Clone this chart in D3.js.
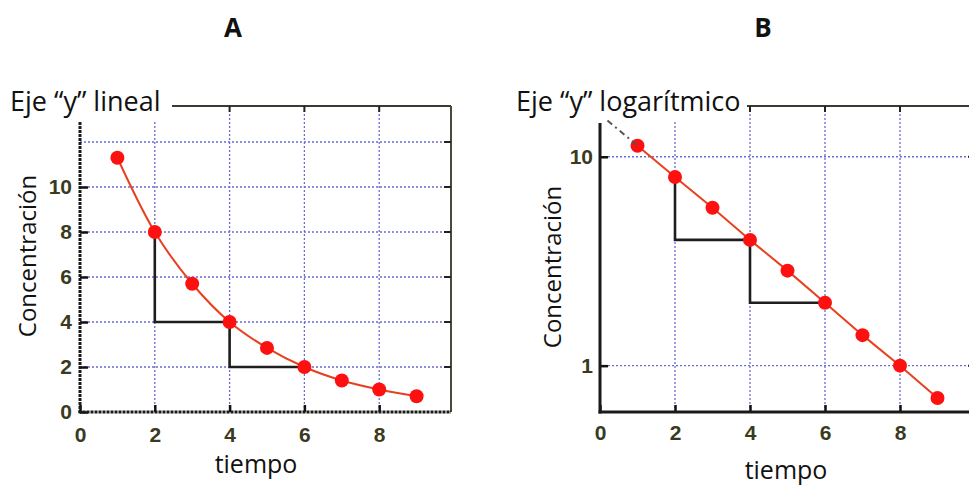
<!DOCTYPE html>
<html>
<head>
<meta charset="utf-8">
<script src="https://cdn.jsdelivr.net/npm/d3@7"></script>
<style>
  html, body { margin: 0; padding: 0; background: #fff; }
  svg { display: block; }
</style>
</head>
<body>
<svg id="chart" width="969" height="485"></svg>
<script>
// Tiempo (x) y concentración medida en cada instante
const tiempo = [1, 2, 3, 4, 5, 6, 7, 8, 9];
const concentracion = [11.3, 8, 5.7, 4, 2.85, 2, 1.4, 1, 0.7];

// Escalones de vida media: (2,8) -> (2,4) -> (4,4) -> (4,2) -> (6,2)
const escalonT = [2, 2, 4, 4, 6];
const escalonC = [8, 4, 4, 2, 2];

// Prolongación de la recta hacia t = 0 en el panel logarítmico
const prolongT = [0.2, 1];
const prolongC = [14.9, 11.3];

// Marcas de los ejes
const xTicks = [0, 2, 4, 6, 8];
const xGrid = [2, 4, 6, 8];
const yTicksLin = [0, 2, 4, 6, 8, 10];
const yGridLin = [2, 4, 6, 8, 10, 12];
const yTicksLog = [1, 10];

const svg = d3.select("#chart");
const sansFont = "'Open Sans', Lato, sans-serif";
const tickFont = "'Liberation Sans', Arial, sans-serif";
const gridColor = "#6b6bd6";
const lineColor = "#e8401f";
const dotColor = "#ff1010";
const tickColor = "#3a3a1e";

function drawPanel(opts) {
  const { x, y, xMax, yTop, yAxisTop, yTicks, yGrid, curve, titleText, titleX, titleEnd,
          axisDash, xPad, yPad, tiempoX, tiempoY, concX, concY } = opts;
  const g = svg.append("g");
  const x0 = x(0), x1 = x(xMax), y0 = y.range()[0], y1 = yTop;

  // cuadrícula punteada
  g.selectAll(".gv").data(xGrid).join("line")
    .attr("x1", d => x(d)).attr("x2", d => x(d))
    .attr("y1", y0).attr("y2", y1)
    .attr("stroke", gridColor).attr("stroke-width", 1.3).attr("stroke-dasharray", "2,2");
  g.selectAll(".gh").data(yGrid).join("line")
    .attr("x1", x0).attr("x2", x1)
    .attr("y1", d => y(d)).attr("y2", d => y(d))
    .attr("stroke", gridColor).attr("stroke-width", 1.3).attr("stroke-dasharray", "2,2");

  // marco superior y derecho
  g.append("line").attr("x1", x0).attr("x2", x1).attr("y1", y1).attr("y2", y1)
    .attr("stroke", "#3a3a30").attr("stroke-width", 2);
  g.append("line").attr("x1", x1).attr("x2", x1).attr("y1", y1).attr("y2", y0)
    .attr("stroke", "#4a4a3a").attr("stroke-width", 2);

  // marcas interiores en el marco
  g.selectAll(".tr").data(yGrid).join("line")
    .attr("x1", x1 - 7).attr("x2", x1).attr("y1", d => y(d)).attr("y2", d => y(d))
    .attr("stroke", "#222").attr("stroke-width", 2);
  g.selectAll(".tt").data(xGrid).join("line")
    .attr("x1", d => x(d)).attr("x2", d => x(d)).attr("y1", y1).attr("y2", y1 + 6)
    .attr("stroke", "#222").attr("stroke-width", 2);

  // fondo blanco del título
  g.append("rect").attr("x", titleX - 5).attr("y", 80).attr("width", titleEnd - titleX + 5)
    .attr("height", y1 - 80 + 15).attr("fill", "#fff");

  // ejes izquierdo e inferior
  const yAxis = d3.axisLeft(y).tickValues(yTicks).tickSize(-8).tickPadding(yPad).tickFormat(d3.format("d"));
  const ya = g.append("g").attr("transform", `translate(${x0},0)`).call(yAxis);
  ya.select(".domain").remove();
  ya.selectAll(".tick line").attr("stroke", "#111").attr("stroke-width", 2.5);
  ya.selectAll(".tick text").attr("fill", tickColor).attr("font-family", tickFont)
    .attr("font-weight", "bold").attr("font-size", 21);

  const xAxis = d3.axisBottom(x).tickValues(xTicks).tickSize(-7).tickPadding(xPad);
  const xa = g.append("g").attr("transform", `translate(0,${y0})`).call(xAxis);
  xa.select(".domain").remove();
  xa.selectAll(".tick line").attr("stroke", "#111").attr("stroke-width", 2.5);
  xa.selectAll(".tick text").attr("fill", tickColor).attr("font-family", tickFont)
    .attr("font-weight", "bold").attr("font-size", 21);

  g.append("line").attr("x1", x0).attr("x2", x0).attr("y1", yAxisTop).attr("y2", y0 + 1.5)
    .attr("stroke", "#1a1a1a").attr("stroke-width", 3).attr("stroke-dasharray", axisDash);
  g.append("line").attr("x1", x0 - 1.5).attr("x2", x1).attr("y1", y0).attr("y2", y0)
    .attr("stroke", "#1a1a1a").attr("stroke-width", 3).attr("stroke-dasharray", axisDash);

  // escalones de vida media
  const stepLine = d3.line().x((d, i) => x(escalonT[i])).y((d, i) => y(escalonC[i]));
  g.append("path").attr("d", stepLine(escalonT)).attr("fill", "none")
    .attr("stroke", "#1e1e1e").attr("stroke-width", 2.6);

  // curva de concentración
  const dataLine = d3.line().curve(curve).x((d, i) => x(tiempo[i])).y((d, i) => y(concentracion[i]));
  g.append("path").attr("d", dataLine(tiempo)).attr("fill", "none")
    .attr("stroke", lineColor).attr("stroke-width", 2);

  g.selectAll(".pt").data(tiempo).join("circle")
    .attr("cx", (d, i) => x(tiempo[i])).attr("cy", (d, i) => y(concentracion[i]))
    .attr("r", 7).attr("fill", dotColor);

  // textos
  g.append("text").attr("x", titleX).attr("y", 111).text(titleText)
    .attr("font-family", sansFont).attr("font-size", 27).attr("fill", "#111");
  g.append("text").attr("x", tiempoX).attr("y", tiempoY).attr("text-anchor", "middle")
    .text("tiempo").attr("font-family", sansFont).attr("font-size", 25).attr("fill", "#111");
  g.append("text").attr("transform", `translate(${concX},${concY}) rotate(-90)`)
    .attr("text-anchor", "middle").text("Concentración")
    .attr("font-family", sansFont).attr("font-size", 24).attr("fill", "#111");
  return g;
}

// Panel A: eje y lineal
const xA = d3.scaleLinear().domain([0, 9.92]).range([80, 451]);
const yA = d3.scaleLinear().domain([0, 13.6]).range([412, 106]);
drawPanel({
  x: xA, y: yA, xMax: 9.92, yTop: 106, yAxisTop: 122,
  yTicks: yTicksLin, yGrid: yGridLin, curve: d3.curveCatmullRom.alpha(0.5),
  titleText: "Eje “y” lineal", titleX: 10, titleEnd: 172, axisDash: "3,1",
  xPad: 15.5, yPad: 8, tiempoX: 256, tiempoY: 473, concX: 36, concY: 256
});

// Panel B: eje y logarítmico
const xB = d3.scaleLinear().domain([0, 10]).range([600, 975]);
const yB = d3.scaleLog().domain([0.6, 17.5]).range([412, 106]);
const gB = drawPanel({
  x: xB, y: yB, xMax: 10, yTop: 106, yAxisTop: 123,
  yTicks: yTicksLog, yGrid: yTicksLog, curve: d3.curveLinear,
  titleText: "Eje “y” logarítmico", titleX: 516, titleEnd: 747, axisDash: null,
  xPad: 13.5, yPad: 7, tiempoX: 786, tiempoY: 479, concX: 561, concY: 267
});

// prolongación discontinua de la recta
const ext = d3.line().x((d, i) => xB(prolongT[i])).y((d, i) => yB(prolongC[i]));
gB.append("path").attr("d", ext(prolongT)).attr("fill", "none")
  .attr("stroke", "#555").attr("stroke-width", 2).attr("stroke-dasharray", "6,4,2,4");

// letras de los paneles
svg.selectAll(".panel").data(["A", "B"]).join("text")
  .attr("x", (d, i) => i === 0 ? 233 : 763).attr("y", 37).attr("text-anchor", "middle")
  .text(d => d).attr("font-family", "'Open Sans', sans-serif").attr("font-weight", "bold")
  .attr("font-size", 26).attr("fill", "#111");
</script>
</body>
</html>
